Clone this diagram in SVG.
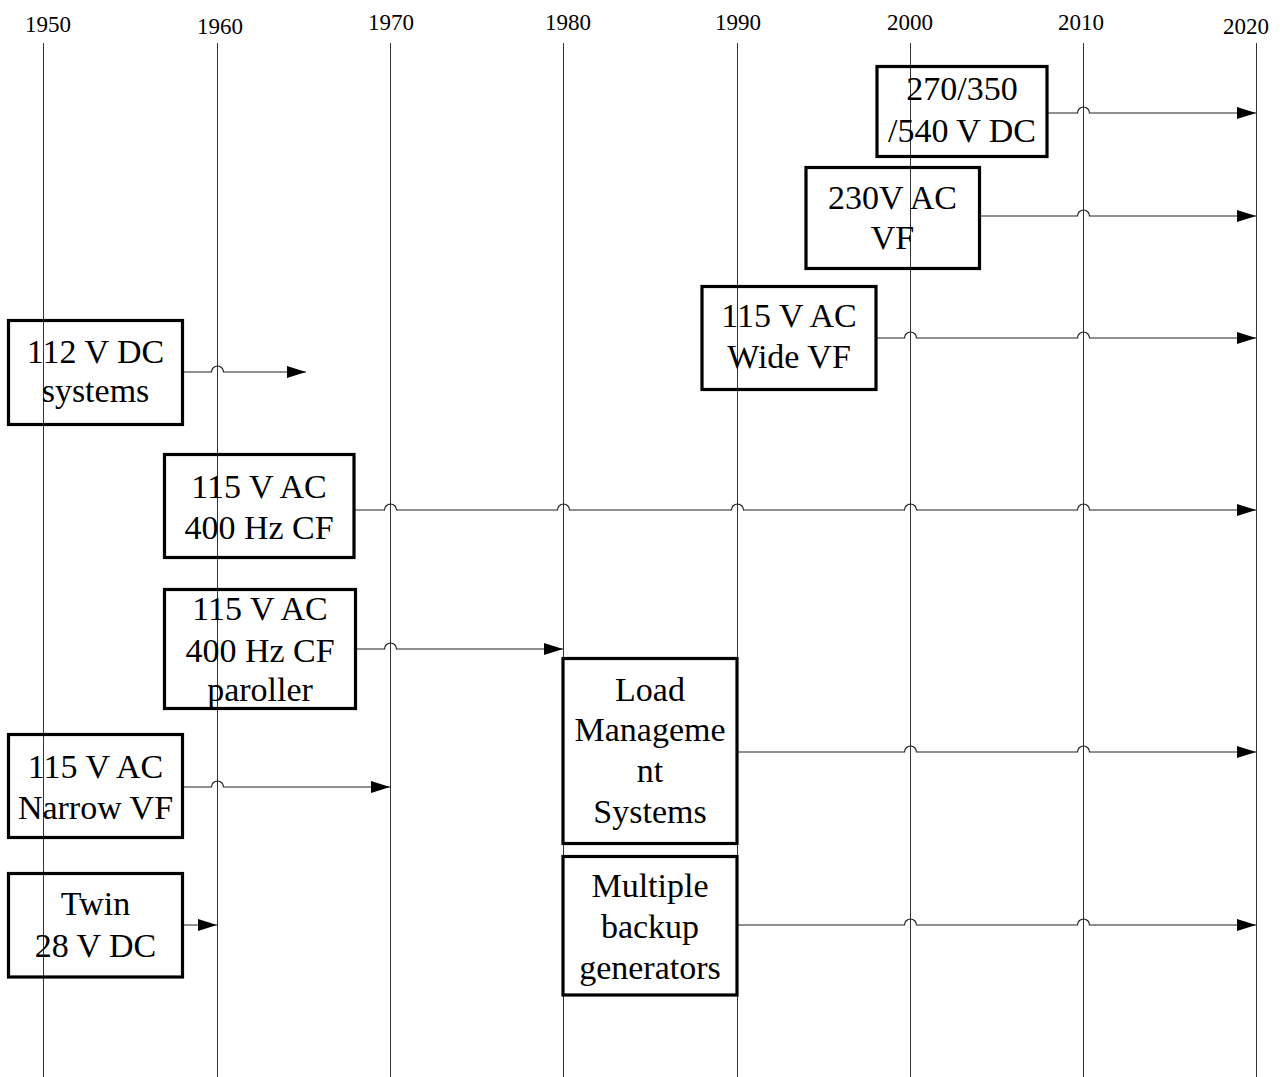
<svg xmlns="http://www.w3.org/2000/svg" width="1280" height="1077" viewBox="0 0 1280 1077">
<style>
.yr{font-family:"Liberation Serif","Times New Roman",serif;font-size:23px;fill:#000;text-anchor:middle}
.grid line{stroke:#333;stroke-width:1}
.box rect{fill:none;stroke:#000;stroke-width:3.2}
.box text{font-family:"Liberation Serif","Times New Roman",serif;font-size:34px;fill:#000;text-anchor:middle}
.conn path{fill:none;stroke:#222;stroke-width:1.2}
</style>
<defs>
<marker id="ah" markerUnits="userSpaceOnUse" markerWidth="20" markerHeight="12" refX="19" refY="6" orient="auto">
<path d="M0,0 L19,6 L0,12 z" fill="#000"/>
</marker>
</defs>
<rect width="1280" height="1077" fill="#fff"/>
<g id="years">
<text class="yr" x="48" y="31.5">1950</text>
<text class="yr" x="220" y="34">1960</text>
<text class="yr" x="391" y="29.5">1970</text>
<text class="yr" x="568" y="30">1980</text>
<text class="yr" x="738" y="29.5">1990</text>
<text class="yr" x="910" y="29.5">2000</text>
<text class="yr" x="1081" y="29.5">2010</text>
<text class="yr" x="1246" y="34">2020</text>
</g>
<g id="grid" class="grid">
<line x1="43.5" y1="43" x2="43.5" y2="1077"/>
<line x1="217.5" y1="43" x2="217.5" y2="1077"/>
<line x1="390.5" y1="43" x2="390.5" y2="1077"/>
<line x1="563.5" y1="43" x2="563.5" y2="1077"/>
<line x1="737.5" y1="43" x2="737.5" y2="1077"/>
<line x1="910.5" y1="43" x2="910.5" y2="1077"/>
<line x1="1083.5" y1="43" x2="1083.5" y2="1077"/>
<line x1="1256.5" y1="43" x2="1256.5" y2="1077"/>
</g>
<g id="connectors" class="conn">
<path d="M1047,113 H1077.5 A6,6 0 0 1 1089.5,113 H1256" marker-end="url(#ah)"/>
<path d="M980,216 H1077.5 A6,6 0 0 1 1089.5,216 H1256" marker-end="url(#ah)"/>
<path d="M876,338 H904.5 A6,6 0 0 1 916.5,338 H1077.5 A6,6 0 0 1 1089.5,338 H1256" marker-end="url(#ah)"/>
<path d="M183,372 H211.5 A6,6 0 0 1 223.5,372 H306" marker-end="url(#ah)"/>
<path d="M354,510 H384.5 A6,6 0 0 1 396.5,510 H557.5 A6,6 0 0 1 569.5,510 H731.5 A6,6 0 0 1 743.5,510 H904.5 A6,6 0 0 1 916.5,510 H1077.5 A6,6 0 0 1 1089.5,510 H1256" marker-end="url(#ah)"/>
<path d="M356,649 H384.5 A6,6 0 0 1 396.5,649 H563" marker-end="url(#ah)"/>
<path d="M183,787 H211.5 A6,6 0 0 1 223.5,787 H390" marker-end="url(#ah)"/>
<path d="M183,925 H217" marker-end="url(#ah)"/>
<path d="M737,752 H904.5 A6,6 0 0 1 916.5,752 H1077.5 A6,6 0 0 1 1089.5,752 H1256" marker-end="url(#ah)"/>
<path d="M737,925 H904.5 A6,6 0 0 1 916.5,925 H1077.5 A6,6 0 0 1 1089.5,925 H1256" marker-end="url(#ah)"/>
</g>
<g id="n-dc270" class="box"><rect x="877" y="66.5" width="170" height="90"/><text x="962" y="100">270/350</text><text x="962" y="141.5">/540 V DC</text></g>
<g id="n-ac230" class="box"><rect x="806" y="167.5" width="173.5" height="101"/><text x="892.5" y="209">230V AC</text><text x="892.5" y="248.5">VF</text></g>
<g id="n-widevf" class="box"><rect x="702" y="286.5" width="174" height="103"/><text x="789" y="327">115 V AC</text><text x="789" y="367.5">Wide VF</text></g>
<g id="n-dc112" class="box"><rect x="8.5" y="320.5" width="174" height="104"/><text x="95.5" y="363">112 V DC</text><text x="95.5" y="402">systems</text></g>
<g id="n-cf400" class="box"><rect x="164.5" y="454.5" width="189.5" height="103"/><text x="259" y="497.5">115 V AC</text><text x="259" y="538.5">400 Hz CF</text></g>
<g id="n-paroller" class="box"><rect x="164.5" y="589.5" width="191" height="119"/><text x="260" y="620">115 V AC</text><text x="260" y="661.5">400 Hz CF</text><text x="260" y="701">paroller</text></g>
<g id="n-narrowvf" class="box"><rect x="8.5" y="734.5" width="174" height="103"/><text x="95.5" y="778">115 V AC</text><text x="95.5" y="819">Narrow VF</text></g>
<g id="n-twin28" class="box"><rect x="8.5" y="873.5" width="174" height="103.5"/><text x="95.5" y="915">Twin</text><text x="95.5" y="956.5">28 V DC</text></g>
<g id="n-load" class="box"><rect x="563" y="658.5" width="174" height="185"/><text x="650" y="701">Load</text><text x="650" y="741">Manageme</text><text x="650" y="782">nt</text><text x="650" y="823">Systems</text></g>
<g id="n-backup" class="box"><rect x="563" y="856.5" width="174" height="138.5"/><text x="650" y="897">Multiple</text><text x="650" y="938">backup</text><text x="650" y="979">generators</text></g>
</svg>
